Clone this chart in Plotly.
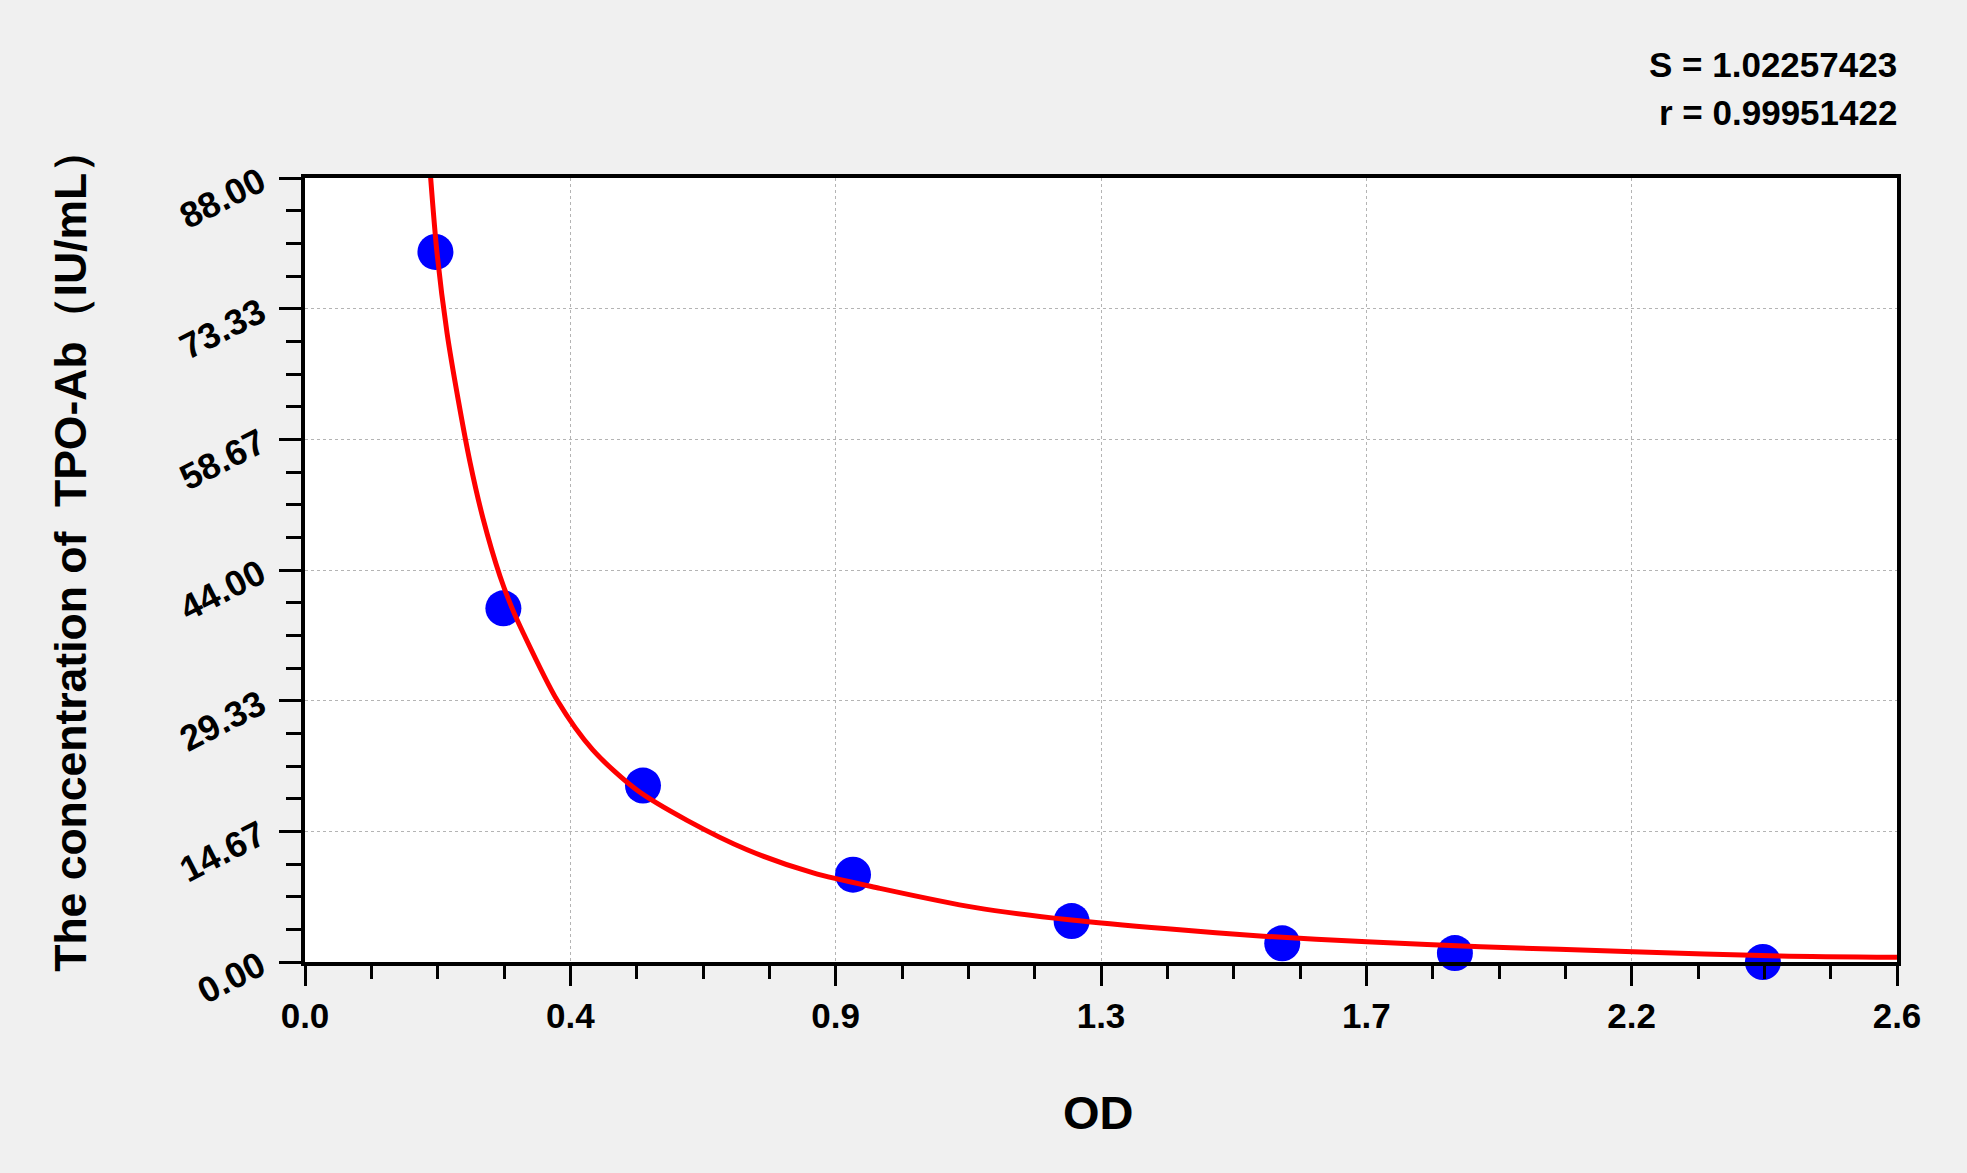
import plotly.graph_objects as go

#
# Datos
#
od_points = [0.213, 0.324, 0.552, 0.895, 1.252, 1.596, 1.878, 2.381]
conc_points = [79.7, 39.7, 19.8, 9.8, 4.6, 2.1, 1.0, 0.0]

# curva ajustada (puntos leidos sobre la linea roja)
od_curve = [0.204, 0.2156, 0.232, 0.250, 0.2695, 0.2907, 0.3185, 0.3376, 0.3566,
            0.4116, 0.470, 0.542, 0.624, 0.722, 0.830, 0.939, 1.0955, 1.252,
            1.4085, 1.565, 1.734, 1.920, 2.169, 2.409, 2.600]
conc_curve = [89.1, 79.6, 70.6, 63.2, 56.1, 49.8, 43.3, 39.8, 36.9,
              29.4, 23.8, 19.3, 15.9, 12.6, 10.0, 8.27, 6.10, 4.71,
              3.72, 2.90, 2.28, 1.72, 1.16, 0.67, 0.52]

x_tick_vals = [0, 0.4333, 0.8667, 1.3, 1.7333, 2.1667, 2.6]
x_tick_labels = ["0.0", "0.4", "0.9", "1.3", "1.7", "2.2", "2.6"]
y_tick_vals = [0, 14.667, 29.333, 44, 58.667, 73.333, 88]
y_tick_labels = ["0.00", "14.67", "29.33", "44.00", "58.67", "73.33", "88.00"]

stats_text = ["S = 1.02257423", "r = 0.99951422"]

FONT = "Liberation Sans, Arial, sans-serif"

fig = go.Figure()

# puntos de la curva estandar
fig.add_trace(go.Scatter(
    x=od_points, y=conc_points, mode="markers",
    marker=dict(color="#0000ff", size=36, line=dict(width=0)),
    showlegend=False, cliponaxis=False
))

# linea de ajuste
fig.add_trace(go.Scatter(
    x=od_curve, y=conc_curve, mode="lines",
    line=dict(color="#ff0000", width=5, shape="spline", smoothing=0.8),
    showlegend=False
))

fig.update_xaxes(
    range=[0, 2.6],
    tickmode="array", tickvals=x_tick_vals, ticktext=x_tick_labels,
    ticks="outside", ticklen=20, tickwidth=3, tickcolor="black",
    tickfont=dict(family=FONT, size=35, color="black", weight="bold"),
    showline=True, linewidth=3.5, linecolor="black", mirror=True,
    showgrid=True, gridcolor="#b4b4b4", gridwidth=1, griddash="3px,3px",
    zeroline=False,
    minor=dict(dtick=2.6 / 24, tick0=0, ticks="outside", ticklen=13,
               tickwidth=3, tickcolor="black", showgrid=False),
)

fig.update_yaxes(
    range=[0, 88],
    tickmode="array", tickvals=y_tick_vals, ticktext=y_tick_labels,
    ticks="outside", ticklen=22, tickwidth=3, tickcolor="black",
    tickangle=-27, ticklabelstandoff=12,
    tickfont=dict(family=FONT, size=36, color="black", weight="bold"),
    showline=True, linewidth=3.5, linecolor="black", mirror=True,
    showgrid=True, gridcolor="#b4b4b4", gridwidth=1, griddash="3px,3px",
    zeroline=False,
    minor=dict(dtick=88 / 24, tick0=0, ticks="outside", ticklen=15,
               tickwidth=3, tickcolor="black", showgrid=False),
)

#
# Titulos y textos
#
fig.add_annotation(
    text="The concentration of  TPO-Ab（IU/mL）",
    xref="paper", yref="paper", x=-0.1475, y=0.526,
    xanchor="center", yanchor="middle", textangle=-90, showarrow=False,
    font=dict(family=FONT, size=44.5, color="black", weight="bold")
)
fig.add_annotation(
    text="OD",
    xref="paper", yref="paper", x=0.4987, y=-0.1926,
    xanchor="center", yanchor="middle", showarrow=False,
    font=dict(family=FONT, size=47, color="black", weight="bold")
)
fig.add_annotation(
    text=stats_text[0],
    xref="paper", yref="paper", x=1.001, y=1.145,
    xanchor="right", yanchor="middle", showarrow=False,
    font=dict(family=FONT, size=35, color="black", weight="bold")
)
fig.add_annotation(
    text=stats_text[1],
    xref="paper", yref="paper", x=1.001, y=1.083,
    xanchor="right", yanchor="middle", showarrow=False,
    font=dict(family=FONT, size=35, color="black", weight="bold")
)

fig.update_layout(
    width=1967, height=1173,
    margin=dict(l=305, r=70, t=178, b=211),
    paper_bgcolor="#f0f0f0",
    plot_bgcolor="white",
    showlegend=False,
)

# sin margen del navegador y sin barra de herramientas
fig.write_html("out.html", config={"displayModeBar": False},
               post_script="document.body.style.margin='0';")
